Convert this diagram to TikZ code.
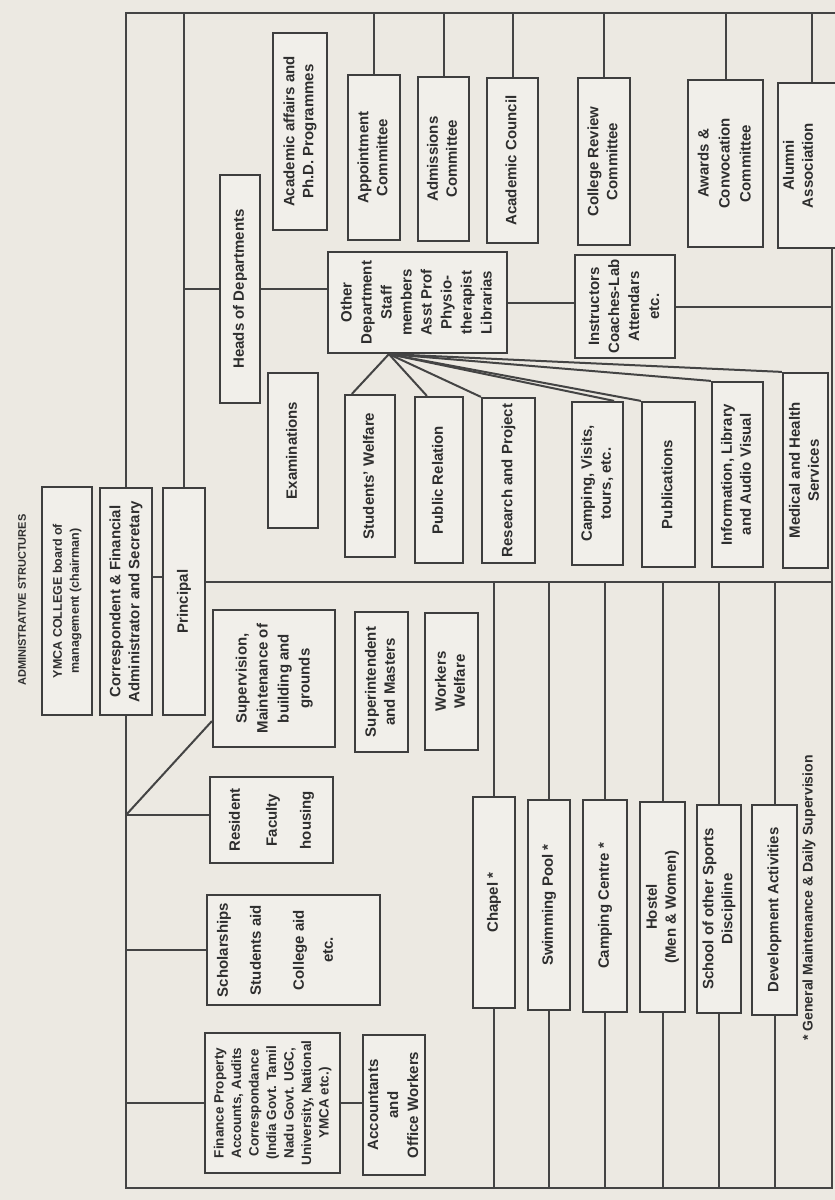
\documentclass[tikz,border=0pt]{standalone}
\usepackage{fontspec}
\setmainfont{Liberation Sans}
\usepackage{graphicx}
\usetikzlibrary{calc}
\definecolor{bgc}{HTML}{ECE9E2}
\definecolor{boxfill}{HTML}{F1EFEA}
\definecolor{boxc}{HTML}{3E3E3E}
\definecolor{linec}{HTML}{444444}
\definecolor{txtc}{HTML}{2E2E2E}
\tikzset{
  bx/.style={draw=boxc, line width=2.2pt, fill=boxfill, inner sep=0pt, text=txtc,
    font=\fontsize{15}{19}\selectfont\bfseries},
  ln/.style={draw=linec, line width=2pt},
  lbl/.style={inner sep=0pt, text=txtc},
}
\newcommand{\bx}[7][]{\node[bx,minimum width={(#5-#3)*1pt},minimum height={(#6-#4)*1pt},#1] (#2) at ({(#3+#5)/2},{(#4+#6)/2}) {\rotatebox{90}{\begin{tabular}{@{}c@{}}#7\end{tabular}}};}
\begin{document}
\begin{tikzpicture}[x=1pt,y=-1pt]
\fill[bgc] (0,0) rectangle (835,1200);
\useasboundingbox (0,0) rectangle (835,1200);

% title
\node[lbl, font=\fontsize{11}{13}\selectfont\bfseries] (title) at (22,600) {\rotatebox{90}{ADMINISTRATIVE STRUCTURES}};

% left column
\bx[font=\fontsize{12.5}{17}\selectfont\bfseries]{ymca}{42}{487}{92}{715}{YMCA COLLEGE board of\\ management (chairman)}
\bx{corr}{100}{488}{152}{715}{Correspondent \& Financial\\ Administrator and Secretary}
\bx{prin}{163}{488}{205}{715}{Principal}

% upper part
\bx{hod}{220}{175}{260}{403}{Heads of Departments}
\bx{acad}{273}{33}{327}{230}{Academic affairs and\\ Ph.D. Programmes}
\bx{appt}{348}{75}{400}{240}{Appointment\\ Committee}
\bx{adm}{418}{77}{469}{241}{Admissions\\ Committee}
\bx{council}{487}{78}{538}{243}{Academic Council}
\bx{crc}{578}{78}{630}{245}{College Review\\ Committee}
\bx[font=\fontsize{15}{21}\selectfont\bfseries]{awd}{688}{80}{763}{247}{Awards \&\\ Convocation\\ Committee}
\bx{alum}{778}{83}{845}{248}{Alumni\\ Association\\[24pt]}
\bx[font=\fontsize{15}{20}\selectfont\bfseries]{other}{328}{252}{507}{353}{Other\\ Department\\ Staff\\ members\\ Asst Prof\\ Physio-\\ therapist\\ Librarias}
\bx[font=\fontsize{15}{20}\selectfont\bfseries]{instr}{575}{255}{675}{358}{Instructors\\ Coaches-Lab\\ Attendars\\ etc.}
\bx{exam}{268}{373}{318}{528}{Examinations}
\bx{sw}{345}{395}{395}{557}{Students' Welfare}
\bx{pr}{415}{397}{463}{563}{Public Relation}
\bx{rp}{482}{398}{535}{563}{Research and Project}
\bx{cv}{572}{402}{623}{565}{Camping, Visits,\\ tours, etc.}
\bx{pub}{642}{402}{695}{567}{Publications}
\bx{info}{712}{382}{763}{567}{Information, Library\\ and Audio Visual}
\bx{med}{783}{373}{828}{568}{Medical and Health\\ Services}

% lower middle
\bx[font=\fontsize{15}{21}\selectfont\bfseries]{sup}{213}{610}{335}{747}{Supervision,\\ Maintenance of\\ building and\\ grounds}
\bx{supt}{355}{612}{408}{752}{Superintendent\\ and Masters}
\bx{wrk}{425}{613}{478}{750}{Workers\\ Welfare}
\bx{res}{210}{777}{333}{863}{Resident\\[18pt] Faculty\\[15pt] housing}
\bx{sch}{207}{895}{380}{1005}{Scholarships\\[14pt] Students aid\\[24pt] College aid\\[10pt] etc.\\[34pt]}
\bx[font=\fontsize{13.5}{17.5}\selectfont\bfseries]{fin}{205}{1033}{340}{1173}{Finance Property\\ Accounts, Audits\\ Correspondance\\ (India Govt. Tamil\\ Nadu Govt. UGC,\\ University, National\\ YMCA etc.)}
\bx[font=\fontsize{15}{20}\selectfont\bfseries]{accw}{363}{1035}{425}{1175}{Accountants\\ and\\ Office Workers}

% lower right
\bx{chapel}{473}{797}{515}{1008}{Chapel *}
\bx{swim}{528}{800}{570}{1010}{Swimming Pool *}
\bx{camp}{583}{800}{627}{1012}{Camping Centre *}
\bx{hostel}{640}{802}{685}{1012}{Hostel\\ (Men \& Women)}
\bx{school}{697}{805}{741}{1013}{School of other Sports\\ Discipline}
\bx{dev}{752}{805}{797}{1015}{Development Activities}

\node[lbl, font=\fontsize{14}{17}\selectfont\bfseries] (foot) at (809,898) {\rotatebox{90}{* General Maintenance \& Daily Supervision}};

% coordinates
\coordinate (tl) at (0,13);
\coordinate (tr) at (840,13);
\coordinate (cp) at (0,577);
\coordinate (mainR) at (832,582);
\coordinate (bot) at (0,1188);
\coordinate (br) at (832,1188);
\coordinate (y815) at (0,815);
\coordinate (fan) at ($(other.south west)+(62,0)$);

% frame and main lines
\draw[ln] (corr.north) -- (corr.north |- tl) -- (tr);
\draw[ln] (prin.north) -- (prin.north |- tl);
\draw[ln] (corr.east |- cp) -- (prin.west |- cp);
\draw[ln] (prin.east |- mainR) -- (mainR);
\draw[ln] (corr.south) -- (corr.south |- bot) -- (br) -- (br |- alum.south);

% upper branches
\draw[ln] (prin.north |- hod.west) -- (hod.west);
\draw[ln] (hod.east) -- (other.west |- hod.east);
\draw[ln] (other.east) -- (instr.west |- other.east);
\draw[ln] (instr.east) -- (instr.east -| br);
\foreach \n in {appt,adm,council,crc,awd,alum} \draw[ln] (\n.north) -- (\n.north |- tl);

% fan
\draw[ln] (fan) -- ($(sw.north west)+(8,0)$);
\draw[ln] (fan) -- ($(pr.north west)+(13,0)$);
\draw[ln] (fan) -- (rp.north west);
\draw[ln] (fan) -- ($(cv.north east)+(-10,0)$);
\draw[ln] (fan) -- (pub.north west);
\draw[ln] (fan) -- (info.north west);
\draw[ln] (fan) -- (med.north west);

% bottom boxes
\foreach \n in {chapel,swim,camp,hostel,school,dev} {
  \draw[ln] (\n.north) -- (\n.north |- mainR);
  \draw[ln] (\n.south) -- (\n.south |- bot);
}

% left branches
\draw[ln] (corr.south |- y815) -- (res.west |- y815);
\draw[ln] (corr.south |- y815) -- ($(sup.south west)+(0,-27)$);
\draw[ln] (corr.south |- sch.west) -- (sch.west);
\draw[ln] (corr.south |- fin.west) -- (fin.west);
\draw[ln] (fin.east) -- (accw.west |- fin.east);
\end{tikzpicture}
\end{document}
